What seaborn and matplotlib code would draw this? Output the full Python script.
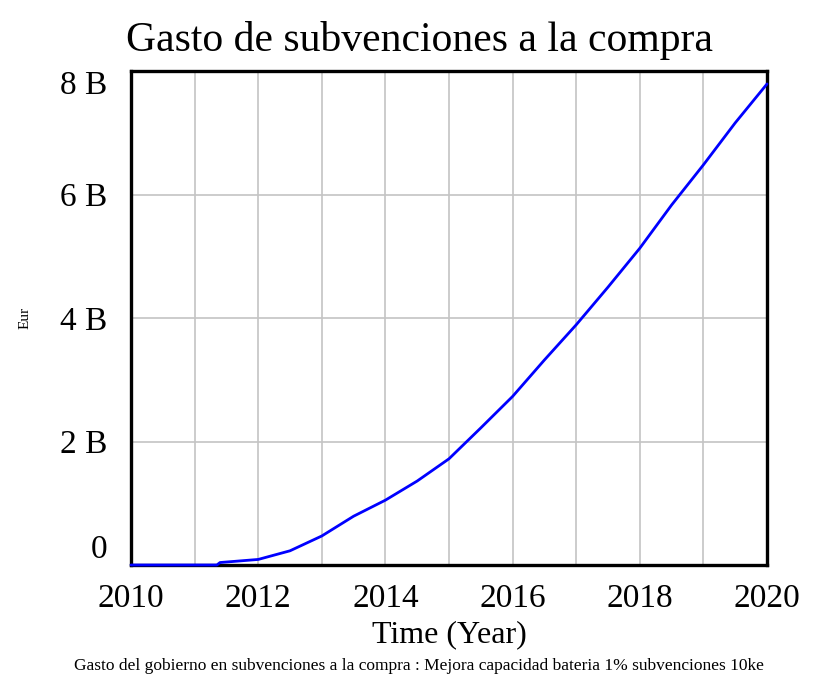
import numpy as np
import pandas as pd
import matplotlib
matplotlib.use("Agg")
import matplotlib.pyplot as plt
import seaborn as sns

# values (billions of Eur)
years = [2010.0, 2010.5, 2011.0, 2011.35, 2011.4, 2012.0, 2012.5, 2013.0, 2013.5,
         2014.0, 2014.5, 2015.0, 2015.5, 2016.0, 2016.5, 2017.0, 2017.5,
         2018.0, 2018.5, 2019.0, 2019.5, 2020.0]
gasto = [0.0, 0.0, 0.0, 0.0, 0.04, 0.09, 0.23, 0.47, 0.79,
         1.05, 1.36, 1.72, 2.22, 2.73, 3.32, 3.89, 4.50,
         5.13, 5.83, 6.48, 7.16, 7.79]

x_ticks = [2010, 2012, 2014, 2016, 2018, 2020]
y_ticks = [0, 2, 4, 6, 8]
y_labels = ["0", "2 B", "4 B", "6 B", "8 B"]

df = pd.DataFrame({"Time": years, "Gasto": gasto})

sns.set_style("white")
plt.rcParams["font.family"] = ["Liberation Serif", "DejaVu Serif"]
plt.rcParams["text.color"] = "black"
plt.rcParams["xtick.color"] = "black"
plt.rcParams["ytick.color"] = "black"
plt.rcParams["axes.labelcolor"] = "black"

fig = plt.figure(figsize=(8.24, 6.82), dpi=100)
ax = fig.add_axes([131 / 824, 1 - 565 / 682, 636 / 824, 494 / 682])

sns.lineplot(data=df, x="Time", y="Gasto", color="#0000ff", linewidth=2.0, ax=ax)
for ln in ax.lines:
    ln.set_zorder(5)
    ln.set_clip_on(False)

ax.set_xlim(2010, 2020)
ax.set_ylim(0, 8)
ax.set_xticks(np.arange(2010, 2021, 1), minor=True)
ax.set_xticks(x_ticks)
ax.set_yticks(y_ticks)
ax.set_yticklabels(y_labels)
ax.grid(True, which="both", axis="x", color="#c4c4c4", linewidth=1.2)
ax.grid(True, which="major", axis="y", color="#c4c4c4", linewidth=1.2)
ax.tick_params(which="both", length=0, labelsize=24)
ax.tick_params(axis="x", pad=13)
ax.tick_params(axis="y", pad=17)

ylabs = ax.get_yticklabels()
ylabs[0].set_va("bottom")
ylabs[-1].set_va("top")

for s in ax.spines.values():
    s.set_color("black")
    s.set_linewidth(2.4)

ax.set_xlabel("Time (Year)", fontsize=23, labelpad=5)
ax.set_ylabel("")
fig.text(25 / 824, 1 - 318 / 682, "Eur", rotation=90, fontsize=11,
         ha="center", va="center")
fig.text(419 / 824, 1 - 40 / 682, "Gasto de subvenciones a la compra",
         fontsize=30, ha="center", va="center")
fig.text(419 / 824, 1 - 666 / 682,
         "Gasto del gobierno en subvenciones a la compra : Mejora capacidad bateria 1% subvenciones 10ke",
         fontsize=12.5, ha="center", va="center")

fig.savefig("out.png", dpi=100)
